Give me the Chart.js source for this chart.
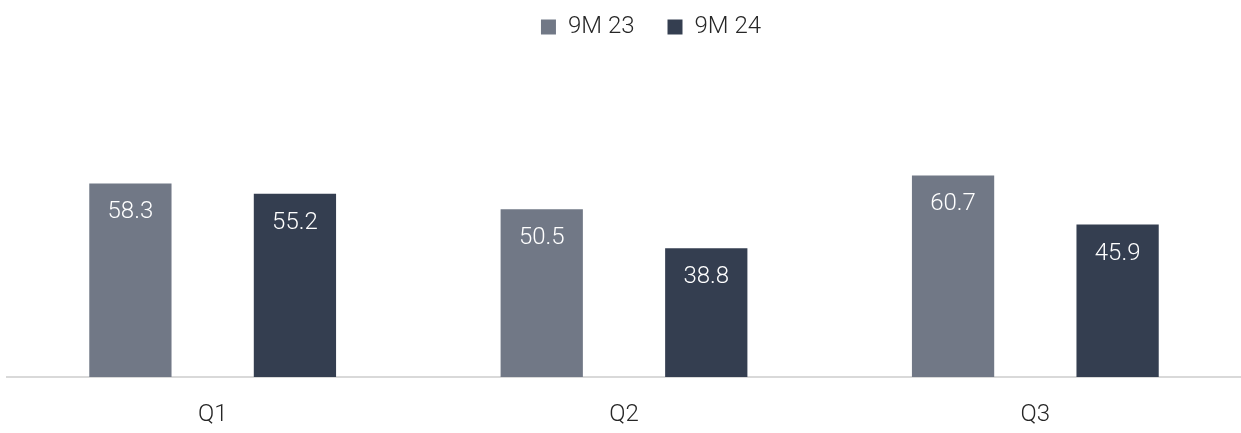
<!DOCTYPE html>
<html>
<head>
<meta charset="utf-8">
<script src="https://cdn.jsdelivr.net/npm/chart.js@4"></script>
<style>
    html, body { margin: 0; padding: 0; background: #fff; }
    #wrap { width: 1241px; height: 433px; }
</style>
</head>
<body>
<div id="wrap"><canvas id="barChart"></canvas></div>
<script>
const categories = ["Q1", "Q2", "Q3"];
const seriesNames = ["9M 23", "9M 24"];
const values9M23 = [58.3, 50.5, 60.7];
const values9M24 = [55.2, 38.8, 45.9];

// white value labels drawn inside the top of each bar
const barLabels = {
    id: "barLabels",
    afterDatasetsDraw(chart) {
        const c = chart.ctx;
        c.save();
        c.fillStyle = "#ffffff";
        c.font = "300 24px Roboto";
        c.textAlign = "center";
        c.textBaseline = "middle";
        chart.data.datasets.forEach((ds, i) => {
            chart.getDatasetMeta(i).data.forEach((bar, j) => {
                c.fillText(ds.data[j].toFixed(1), bar.x, bar.y + 29);
            });
        });
        c.restore();
    }
};

// nudge the legend a bit right / down like the original
const legendShift = {
    id: "legendShift",
    afterLayout(chart) {
        const lg = chart.legend;
        lg.left += 27;
        lg.right += 27;
        lg.top += 4;
        lg.bottom += 4;
    }
};

const ctx = document
    .getElementById("barChart")
    .getContext("2d");

new Chart(ctx, {
    type: "bar",
    data: {
        labels: categories,
        datasets: [{
            label: seriesNames[0],
            data: values9M23,
            backgroundColor: "#717886"
        }, {
            label: seriesNames[1],
            data: values9M24,
            backgroundColor: "#343e50"
        }]
    },
    options: {
        responsive: true,
        maintainAspectRatio: false,
        animation: false,
        categoryPercentage: 0.8,
        barPercentage: 0.5,
        layout: {
            padding: { top: -22, left: 7, right: 0, bottom: 0 }
        },
        plugins: {
            legend: {
                position: "top",
                labels: {
                    boxWidth: 15,
                    boxHeight: 15,
                    padding: 33,
                    color: "#262626",
                    font: { family: "Roboto", size: 24, weight: "300" }
                }
            },
            tooltip: { enabled: false }
        },
        scales: {
            x: {
                grid: { display: false, drawTicks: false },
                border: { color: "#d9d9d9", width: 2 },
                ticks: {
                    color: "#262626",
                    padding: 24,
                    font: { family: "Roboto", size: 24, weight: "300" }
                },
                afterFit(scale) {
                    scale.height = 56;
                }
            },
            y: {
                display: false,
                min: 0,
                max: 100
            }
        }
    },
    plugins: [barLabels, legendShift]
});
</script>
</body>
</html>
